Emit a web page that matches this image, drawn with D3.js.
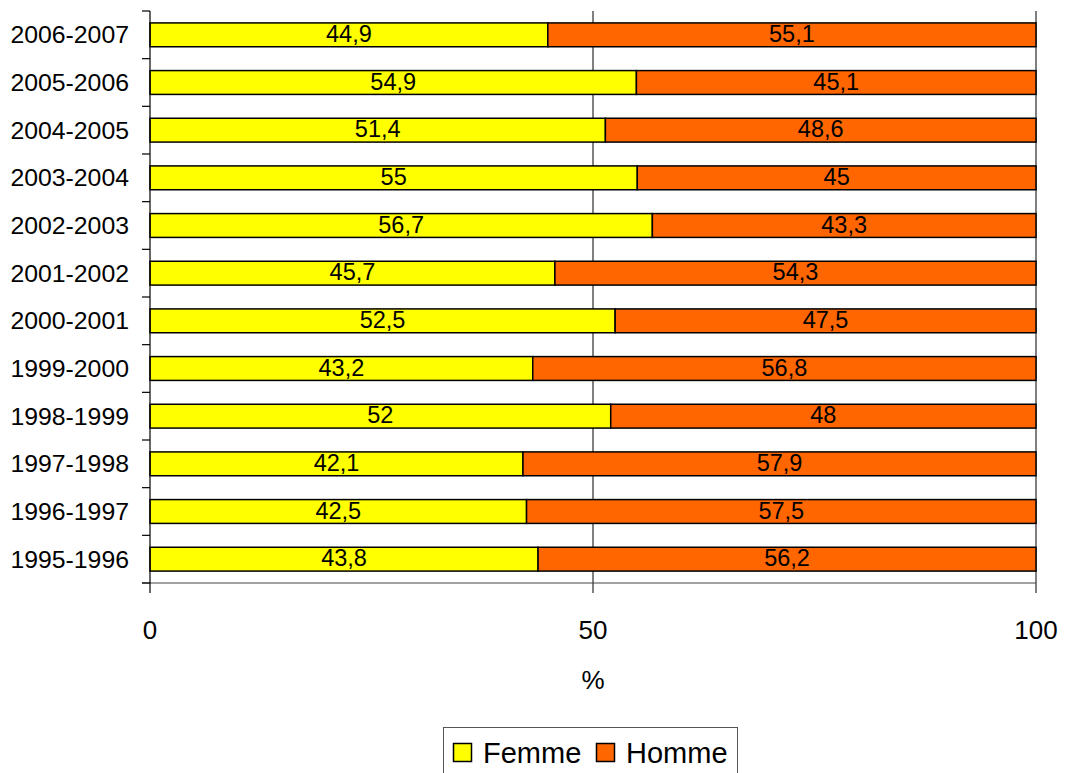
<!DOCTYPE html>
<html><head><meta charset="utf-8">
<script src="https://cdn.jsdelivr.net/npm/d3@7"></script>
<style>body{margin:0;background:#fff}svg{display:block;font-family:Arial,"Liberation Sans",sans-serif}</style>
</head><body>
<svg id="c" width="1066" height="773"></svg>
<script>
const categories = ["2006-2007","2005-2006","2004-2005","2003-2004","2002-2003","2001-2002","2000-2001","1999-2000","1998-1999","1997-1998","1996-1997","1995-1996"];
const femme = [44.9,54.9,51.4,55,56.7,45.7,52.5,43.2,52,42.1,42.5,43.8];
const homme = [55.1,45.1,48.6,45,43.3,54.3,47.5,56.8,48,57.9,57.5,56.2];
const seriesNames = ["Femme","Homme"];
const colors = ["#FFFF00","#FF6600"];
const xTicks = [0,50,100];

const svg = d3.select("#c");
const L = 150, R = 1036, T = 11, B = 583;
const x = d3.scaleLinear().domain([0,100]).range([L,R]);
const y = d3.scaleBand().domain(categories).range([T,B]).paddingInner(0.5).paddingOuter(0.25);
const fmt = v => String(v).replace(".", ",");

// gridlines
svg.append("g").selectAll("line").data(xTicks.slice(1)).join("line")
  .attr("x1", d=>x(d)).attr("x2", d=>x(d)).attr("y1", T).attr("y2", B+10)
  .attr("stroke","#000").attr("stroke-width",1);

// bottom line
svg.append("line").attr("x1",L-8).attr("x2",R).attr("y1",B).attr("y2",B).attr("stroke","#444").attr("stroke-width",1.2);

// bars
const rows = categories.map((c,i)=>({c, vals:[femme[i], homme[i]]}));
const g = svg.append("g");
rows.forEach(r=>{
  let acc = 0;
  r.vals.forEach((v,k)=>{
    const x0 = x(acc), x1 = x(acc+v);
    g.append("rect").attr("x",x0).attr("y",y(r.c)).attr("width",x1-x0).attr("height",y.bandwidth())
      .attr("fill",colors[k]).attr("stroke","#000").attr("stroke-width",1.5);
    g.append("text").attr("x",(x0+x1)/2).attr("y",y(r.c)+y.bandwidth()/2).attr("dy","0.3em")
      .attr("text-anchor","middle").attr("font-size",23.5).attr("fill","#000").text(fmt(v));
    acc += v;
  });
});

// y axis
const yAxisG = svg.append("g");
yAxisG.append("line").attr("x1",L).attr("x2",L).attr("y1",T).attr("y2",B+10).attr("stroke","#000").attr("stroke-width",1.2);
const step = (B-T)/categories.length;
d3.range(categories.length+1).forEach(i=>{
  yAxisG.append("line").attr("x1",L-8).attr("x2",L).attr("y1",T+i*step).attr("y2",T+i*step).attr("stroke","#000").attr("stroke-width",1.2);
});
yAxisG.selectAll("text").data(categories).join("text")
  .attr("x",129).attr("y",d=>y(d)+y.bandwidth()/2).attr("dy","0.34em").attr("text-anchor","end")
  .attr("font-size",24.8).text(d=>d);

// x tick labels
svg.append("g").selectAll("text").data(xTicks).join("text")
  .attr("x",d=>x(d)).attr("y",639).attr("text-anchor","middle").attr("font-size",26).text(d=>d);
svg.append("text").attr("x",x(50)).attr("y",689).attr("text-anchor","middle").attr("font-size",26).text("%");

// legend
const lg = svg.append("g");
lg.append("rect").attr("x",443.5).attr("y",727.5).attr("width",294).attr("height",60).attr("fill","#fff").attr("stroke","#555").attr("stroke-width",1);
const items = [{n:seriesNames[0],c:colors[0],x:453},{n:seriesNames[1],c:colors[1],x:596}];
items.forEach(it=>{
  lg.append("rect").attr("x",it.x+0.5).attr("y",743.5).attr("width",18).attr("height",18).attr("fill",it.c).attr("stroke","#000").attr("stroke-width",1.5);
  lg.append("text").attr("x",it.x+30).attr("y",763).attr("font-size",29).text(it.n);
});
</script>
</body></html>
